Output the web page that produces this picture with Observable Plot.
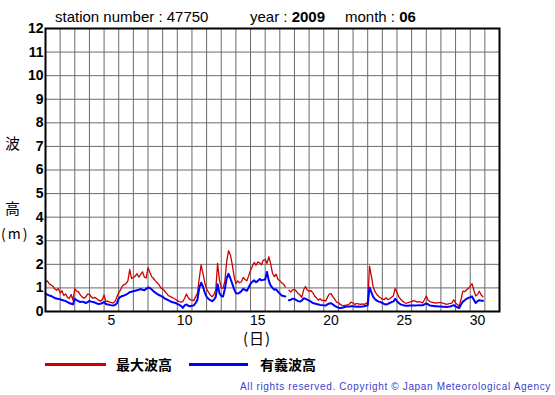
<!DOCTYPE html>
<html><head><meta charset="utf-8">
<script src="https://cdn.jsdelivr.net/npm/d3@7"></script>
<script src="https://cdn.jsdelivr.net/npm/@observablehq/plot@0.6"></script>
<style>
body{margin:0;background:#fff;}
#wrap{position:relative;width:555px;height:395px;overflow:hidden;font-family:"Liberation Sans",Arial,sans-serif;color:#000;}
#wrap svg{position:absolute;left:0;top:0;}
.t{position:absolute;white-space:nowrap;line-height:1;}
.cjk{font-family:"Noto Sans CJK JP",sans-serif;}
</style></head><body><div id="wrap"></div>
<script>
const station = "47750", year = "2009", month = "06";
const dayTicks = [5, 10, 15, 20, 25, 30];
const yTicks = [0,1,2,3,4,5,6,7,8,9,10,11,12];
const seriesNames = ["最大波高", "有義波高"];
const stepHours = 3; // one value every 3 hours, from day 1 00h
// 最大波高 (m)
const maxWave = [
 1.24,1.30,1.18,1.12,1.08,0.96,0.90,0.98,
 0.78,0.88,0.68,0.74,0.60,0.55,0.72,0.48,
 0.96,0.86,0.84,0.70,0.62,0.56,0.62,0.74,
 0.74,0.62,0.56,0.60,0.54,0.48,0.44,0.50,
 0.70,0.42,0.44,0.40,0.38,0.36,0.42,0.62,
 0.80,0.92,1.08,1.14,1.18,1.30,1.78,1.40,
 1.44,1.50,1.60,1.46,1.58,1.68,1.46,1.42,
 1.86,1.66,1.48,1.40,1.30,1.22,1.14,1.00,
 0.96,0.88,0.78,0.68,0.64,0.60,0.56,0.52,
 0.46,0.42,0.40,0.42,0.56,0.74,0.58,0.50,
 0.48,0.46,0.62,0.78,1.40,1.98,1.62,1.22,
 0.96,0.82,0.70,0.62,0.72,0.90,2.04,1.34,
 1.00,0.98,1.30,2.14,2.58,2.40,2.00,1.50,
 1.18,1.30,1.22,1.26,1.44,1.36,1.30,1.52,
 1.74,1.92,2.08,1.96,2.10,2.06,1.98,2.18,
 2.20,2.04,2.32,2.02,1.62,1.48,1.58,1.36,
 1.30,1.22,1.16,1.04,null,0.90,0.82,0.92,
 0.94,0.86,0.76,0.70,0.60,0.92,1.06,0.90,
 0.86,0.88,0.80,0.66,0.58,0.48,0.54,0.46,
 0.48,0.44,0.60,0.74,0.76,0.62,0.52,0.40,
 0.38,0.30,0.26,0.25,0.27,0.28,0.32,0.40,
 0.36,0.30,0.34,0.32,0.30,0.32,0.30,0.33,
 0.40,1.92,1.50,1.04,0.84,0.72,0.64,0.58,
 0.52,0.50,0.58,0.50,0.54,0.60,0.66,0.98,
 0.82,0.62,0.52,0.44,0.38,0.34,0.38,0.40,
 0.42,0.46,0.44,0.40,0.42,0.40,0.36,0.50,
 0.66,0.48,0.42,0.40,0.38,0.36,0.37,0.38,
 0.38,0.36,0.33,0.30,0.32,0.34,0.36,0.50,
 0.36,0.30,0.22,0.52,0.86,0.84,0.92,0.98,
 1.08,1.18,0.90,0.66,0.72,0.86,0.70,0.62
];
// 有義波高 (m)
const sigWave = [
 0.76,0.72,0.68,0.66,0.62,0.57,0.55,0.53,
 0.52,0.49,0.47,0.44,0.40,0.36,0.33,0.30,
 0.54,0.48,0.44,0.40,0.42,0.40,0.36,0.40,
 0.45,0.42,0.40,0.38,0.34,0.32,0.33,0.36,
 0.40,0.32,0.30,0.28,0.26,0.25,0.28,0.34,
 0.56,0.62,0.66,0.68,0.72,0.76,0.82,0.84,
 0.86,0.88,0.90,0.92,0.96,0.92,0.90,0.96,
 1.02,1.00,0.94,0.86,0.80,0.74,0.70,0.66,
 0.62,0.56,0.52,0.48,0.44,0.40,0.38,0.36,
 0.32,0.28,0.24,0.15,0.26,0.30,0.24,0.22,
 0.24,0.26,0.36,0.50,1.00,1.22,1.06,0.80,
 0.62,0.54,0.48,0.44,0.50,0.62,1.16,0.78,
 0.66,0.64,0.96,1.42,1.60,1.40,1.18,0.96,
 0.78,0.76,0.80,0.86,0.96,0.92,0.88,1.02,
 1.18,1.26,1.32,1.24,1.30,1.38,1.32,1.34,
 1.36,1.68,1.30,1.10,1.00,0.92,0.94,0.84,
 0.76,0.68,0.66,0.64,null,0.48,0.50,0.54,
 0.54,0.48,0.44,0.42,0.46,0.56,0.54,0.50,
 0.46,0.42,0.36,0.34,0.32,0.30,0.28,0.27,
 0.26,0.25,0.30,0.34,0.35,0.30,0.24,0.20,
 0.16,0.15,0.16,0.18,0.20,0.21,0.21,0.22,
 0.22,0.21,0.20,0.21,0.20,0.21,0.22,0.24,
 0.26,1.02,0.82,0.62,0.52,0.46,0.42,0.40,
 0.36,0.32,0.30,0.32,0.36,0.40,0.42,0.54,
 0.44,0.36,0.30,0.28,0.25,0.24,0.24,0.25,
 0.25,0.26,0.25,0.26,0.27,0.26,0.26,0.30,
 0.34,0.30,0.25,0.24,0.23,0.22,0.22,0.21,
 0.21,0.20,0.20,0.19,0.20,0.21,0.24,0.27,
 0.22,0.18,0.15,0.30,0.42,0.48,0.54,0.58,
 0.60,0.64,0.50,0.36,0.44,0.48,0.46,0.46
];

const rows = maxWave.map((v, i) => ({t: 1 + i * stepHours / 24, max: v, sig: sigWave[i]}));
const dayLines = d3.range(1, 33);

const chart = Plot.plot({
  width: 555, height: 395,
  marginLeft: 45, marginRight: 56, marginTop: 28, marginBottom: 84,
  style: {fontFamily: "'Liberation Sans', Arial, sans-serif", fontSize: "14px", background: "#fff", color: "#000"},
  x: {domain: [1, 32], axis: null},
  y: {domain: [0, 12], axis: null},
  marks: [
    Plot.ruleX(dayLines, {stroke: "#6a6a6a", strokeWidth: 1}),
    Plot.ruleY(yTicks, {stroke: "#6a6a6a", strokeWidth: 1}),
    Plot.line(rows, {x: "t", y: "max", stroke: "#cc0000", strokeWidth: 1.3}),
    Plot.line(rows, {x: "t", y: "sig", stroke: "#0000ff", strokeWidth: 2}),
    Plot.frame({stroke: "#000", strokeWidth: 2}),
    Plot.axisX(dayTicks.map(d => d + 0.5), {tickSize: 0, tickPadding: 4, tickFormat: d => String(Math.floor(d)), fontSize: 14, label: null}),
    Plot.axisY(yTicks, {tickSize: 0, tickPadding: 2, fontSize: 14, fontWeight: "bold", label: null})
  ]
});
const wrap = document.getElementById("wrap");
wrap.appendChild(chart);

function addText(html, css, cls) {
  const d = document.createElement("div");
  d.className = "t" + (cls ? " " + cls : "");
  d.innerHTML = html;
  Object.assign(d.style, css);
  wrap.appendChild(d);
  return d;
}
addText("station number : " + station, {left: "55px", top: "9px", fontSize: "15px"});
addText("year : <b>" + year + "</b>", {left: "250px", top: "9px", fontSize: "15px"});
addText("month : <b>" + month + "</b>", {left: "345px", top: "9px", fontSize: "15px"});
addText("波", {left: "5px", top: "135px", fontSize: "15px"}, "cjk");
addText("高", {left: "5px", top: "200px", fontSize: "15px"}, "cjk");
addText("(m)", {left: "1px", top: "226px", fontSize: "14px", letterSpacing: "2px"}, "cjk");
addText("(日)", {left: "243px", top: "330px", fontSize: "15px", letterSpacing: "1px"}, "cjk");
// legend
const l1 = document.createElement("div");
Object.assign(l1.style, {position: "absolute", left: "45px", top: "363px", width: "61px", height: "3px", background: "#cc0000"});
wrap.appendChild(l1);
const l2 = document.createElement("div");
Object.assign(l2.style, {position: "absolute", left: "189px", top: "363px", width: "59px", height: "3px", background: "#0000ff"});
wrap.appendChild(l2);
addText(seriesNames[0], {left: "116px", top: "357px", fontSize: "14px", fontWeight: "bold"}, "cjk");
addText(seriesNames[1], {left: "260px", top: "357px", fontSize: "14px", fontWeight: "bold"}, "cjk");
addText("All rights reserved. Copyright © Japan Meteorological Agency", {left: "240px", top: "382px", fontSize: "10px", letterSpacing: "0.65px", color: "#4040cc"});
</script></body></html>
